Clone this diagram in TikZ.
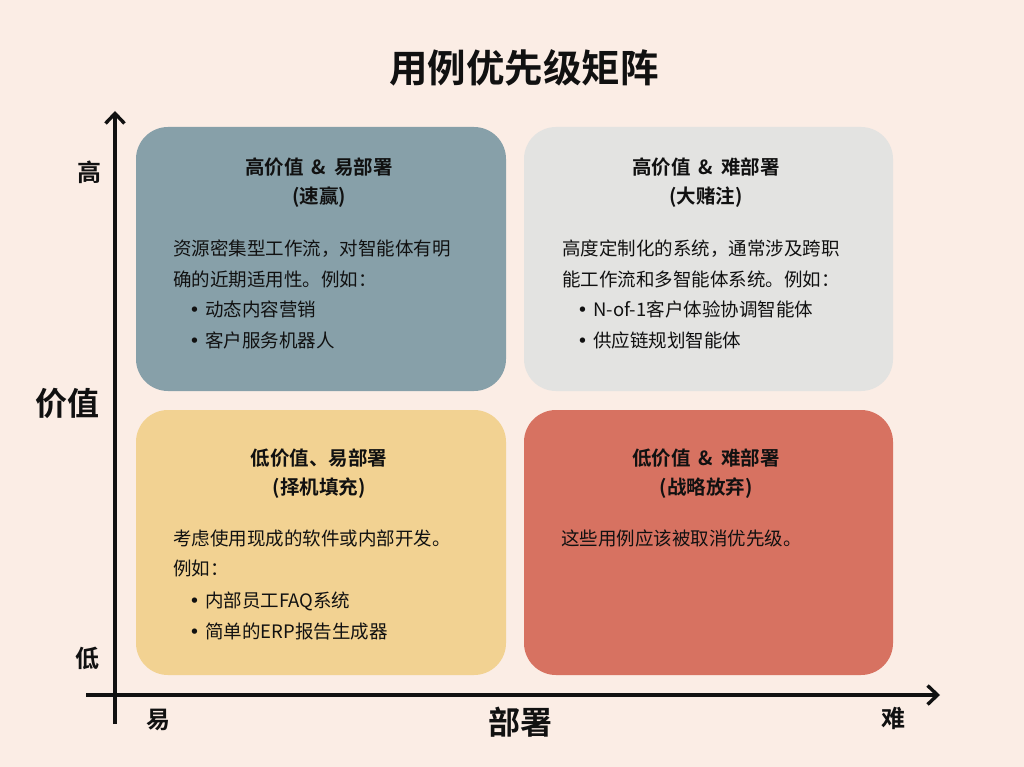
\documentclass[tikz,border=0pt]{standalone}
\usepackage{fontspec}
\setmainfont{Noto Sans CJK SC}[BoldFont={Noto Sans CJK SC Bold}]
\newfontfamily\bulletfont{DejaVu Sans}
\usetikzlibrary{arrows.meta}
\definecolor{bgc}{HTML}{FBEDE5}
\definecolor{tlc}{HTML}{87A0A9}
\definecolor{trc}{HTML}{E3E3E1}
\definecolor{blc}{HTML}{F2D292}
\definecolor{brc}{HTML}{D77261}
\definecolor{ink}{HTML}{111111}
\newcommand{\bul}{\makebox[13pt][l]{\hspace*{-3pt}{\bulletfont •}}}
\newcommand{\amp}{\hspace{0.42em}\&\hspace{0.42em}}
\tikzset{
  quad/.style={rounded corners=32pt, draw=none},
  boxtitle/.style={anchor=base, inner sep=0pt, text=ink, font=\fontsize{19.5}{22}\selectfont\bfseries},
  bodyline/.style={anchor=base west, inner sep=0pt, text=ink, font=\fontsize{18.5}{22}\selectfont},
  axislabel/.style={inner sep=0pt, text=ink, font=\fontsize{24}{28}\selectfont\bfseries},
  biglabel/.style={inner sep=0pt, text=ink, font=\fontsize{32}{36}\selectfont\bfseries},
  axis/.style={line width=3.4pt, draw=ink, -{Straight Barb[length=10pt,width=19pt,line width=3.4pt]}}
}
\begin{document}
\begin{tikzpicture}[x=1pt,y=-1pt]
\fill[bgc] (0,0) rectangle (1024,767);
\useasboundingbox (0,0) rectangle (1024,767);

% title
\node[inner sep=0pt, text=ink, font=\fontsize{38.5}{42}\selectfont\bfseries] (title) at (524,68) {用例优先级矩阵};

% quadrants
\fill[tlc, quad] (136,127) rectangle (506,391);
\fill[trc, quad] (524,127) rectangle (893,391);
\fill[blc, quad] (136,410) rectangle (506,675);
\fill[brc, quad] (524,410) rectangle (893,675);

% top-left
\node[boxtitle] (tlt1) at (319,175) {高价值\amp 易部署};
\node[boxtitle] (tlt2) at (319,204) {(速赢)};
\node[bodyline] (tl1) at (173,255) {资源密集型工作流，对智能体有明};
\node[bodyline] (tl2) at (173,286) {确的近期适用性。例如：};
\node[bodyline] (tl3) at (192,316) {\bul 动态内容营销};
\node[bodyline] (tl4) at (192,347) {\bul 客户服务机器人};

% top-right
\node[boxtitle] (trt1) at (706,175) {高价值\amp 难部署};
\node[boxtitle] (trt2) at (706,204) {(大赌注)};
\node[bodyline] (tr1) at (562,255) {高度定制化的系统，通常涉及跨职};
\node[bodyline] (tr2) at (562,286) {能工作流和多智能体系统。例如：};
\node[bodyline] (tr3) at (580,316) {\bul N-of-1客户体验协调智能体};
\node[bodyline] (tr4) at (580,347) {\bul 供应链规划智能体};

% bottom-left
\node[boxtitle] (blt1) at (319,465) {低价值、易部署};
\node[boxtitle] (blt2) at (319,494) {(择机填充)};
\node[bodyline] (bl1) at (173,545) {考虑使用现成的软件或内部开发。};
\node[bodyline] (bl2) at (173,575) {例如：};
\node[bodyline] (bl3) at (192,607) {\bul 内部员工FAQ系统};
\node[bodyline] (bl4) at (192,638) {\bul 简单的ERP报告生成器};

% bottom-right
\node[boxtitle] (brt1) at (706,465) {低价值\amp 难部署};
\node[boxtitle] (brt2) at (706,494) {(战略放弃)};
\node[bodyline] (br1) at (561,545) {这些用例应该被取消优先级。};

% axes
\coordinate (ybot) at (115,724);
\coordinate (ytop) at (115,111);
\coordinate (xleft) at (86,695);
\coordinate (xright) at (940,695);
\draw[axis] (ybot) -- (ytop);
\draw[axis] (xleft) -- (xright);

\node[axislabel] (hi) at (89,172) {高};
\node[axislabel] (lo) at (87,658) {低};
\node[axislabel] (easy) at (158,720) {易};
\node[axislabel] (hard) at (893,718) {难};
\node[biglabel] (value) at (67,403) {价值};
\node[biglabel] (deploy) at (520,722) {部署};
\end{tikzpicture}
\end{document}
